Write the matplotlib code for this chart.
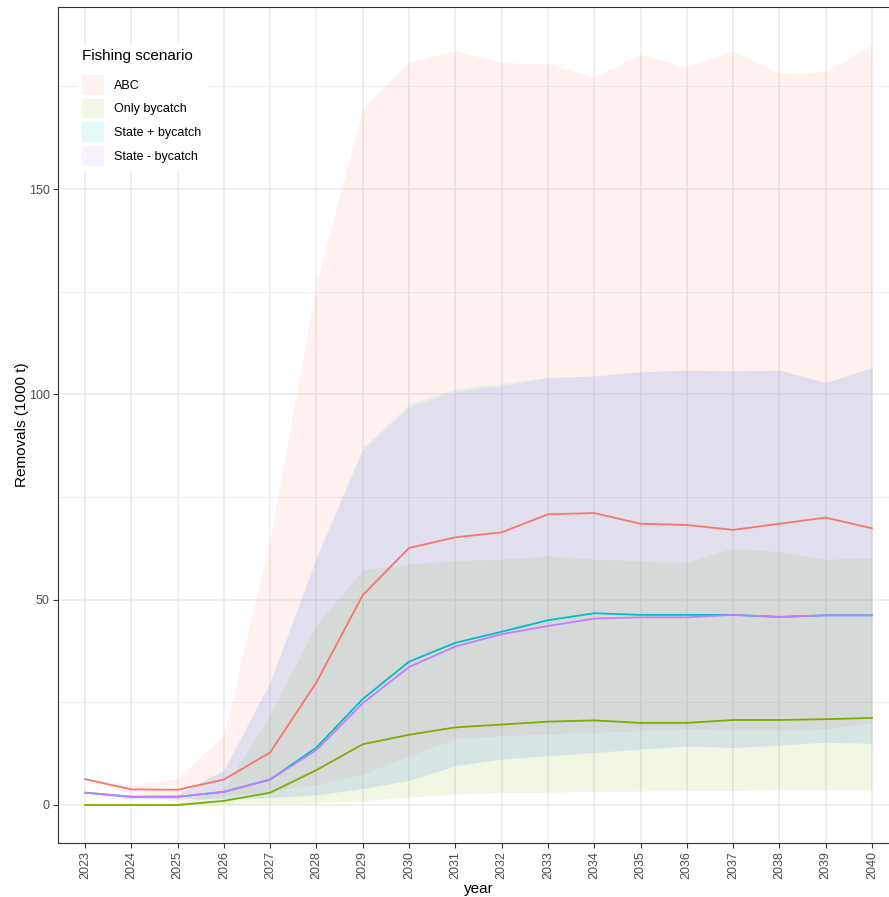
import numpy as np
import matplotlib
matplotlib.use("Agg")
import matplotlib.pyplot as plt
from matplotlib.patches import Patch
from matplotlib.ticker import MultipleLocator

plt.rcParams["font.family"] = ["Liberation Sans", "DejaVu Sans"]

# Data (1000 t)
years = list(range(2023, 2041))
scenarios = ["ABC", "Only bycatch", "State + bycatch", "State - bycatch"]
colors = ["#F8766D", "#7CAE00", "#00BFC4", "#C77CFF"]

abc_med = [6.3, 3.8, 3.7, 6.2, 12.8, 29.9, 51.1, 62.6, 65.2, 66.4, 70.8, 71.1,
           68.5, 68.2, 67.0, 68.5, 70.0, 67.4]
abc_lo = [6.3, 2.8, 0.8, 2.0, 3.5, 5.0, 7.5, 12.0, 16.1, 16.9, 17.3, 17.7,
          18.1, 18.5, 18.3, 18.1, 18.5, 20.1]
abc_hi = [6.3, 4.9, 6.5, 17.0, 65.0, 127.0, 169.8, 181.0, 183.7, 180.8, 180.5,
          177.3, 182.9, 179.6, 183.7, 178.2, 178.6, 185.1]

byc_med = [0.0, 0.0, 0.0, 1.0, 3.0, 8.5, 14.8, 17.1, 18.9, 19.6, 20.3, 20.6,
           20.0, 20.0, 20.7, 20.7, 20.9, 21.2]
byc_lo = [0.0, 0.0, 0.0, 0.1, 0.3, 0.5, 1.0, 1.9, 2.7, 3.1, 3.1, 3.3,
          3.4, 3.5, 3.5, 3.7, 3.7, 3.7]
byc_hi = [0.0, 0.0, 0.3, 4.0, 22.0, 44.0, 57.3, 58.7, 59.5, 59.9, 60.7, 59.9,
          59.5, 59.0, 62.6, 61.7, 59.8, 60.3]

spb_med = [3.0, 2.0, 2.0, 3.2, 6.2, 14.0, 25.8, 34.9, 39.5, 42.2, 45.0, 46.7,
           46.3, 46.3, 46.3, 45.8, 46.2, 46.2]
spb_lo = [3.0, 1.5, 1.5, 1.5, 1.8, 2.5, 4.0, 6.0, 9.6, 11.2, 12.0, 12.8,
          13.6, 14.4, 14.0, 14.6, 15.3, 15.0]
spb_hi = [3.0, 2.5, 2.6, 8.5, 30.0, 60.5, 87.0, 97.6, 101.3, 102.6, 104.1,
          104.5, 105.5, 105.9, 105.7, 105.9, 102.9, 106.5]

smb_med = [3.0, 2.0, 2.0, 3.2, 6.2, 13.4, 24.8, 33.6, 38.6, 41.6, 43.6, 45.4,
           45.7, 45.7, 46.3, 45.8, 46.2, 46.2]
smb_lo = [3.0, 1.5, 1.5, 1.5, 1.8, 2.5, 4.0, 6.0, 9.6, 11.2, 12.0, 12.8,
          13.6, 14.4, 14.0, 14.6, 15.3, 15.0]
smb_hi = [3.0, 2.5, 2.6, 8.5, 30.0, 60.0, 86.4, 96.8, 100.6, 102.1, 104.1,
          104.5, 105.5, 105.9, 105.7, 105.9, 102.9, 106.5]

medians = [abc_med, byc_med, spb_med, smb_med]
lowers = [abc_lo, byc_lo, spb_lo, smb_lo]
uppers = [abc_hi, byc_hi, spb_hi, smb_hi]

W, H = 889, 897
fig = plt.figure(figsize=(W / 100, H / 100), dpi=100)
# panel runs off the right edge of the image, as in the reference
ax = fig.add_axes([58 / W, 54 / H, 841 / W, 836 / H])

for lo, hi, c in zip(lowers, uppers, colors):
    ax.fill_between(years, lo, hi, color=c, alpha=0.1, linewidth=0, zorder=2)
for med, c in zip(medians, colors):
    ax.plot(years, med, color=c, lw=1.3, zorder=3)

ax.set_xlim(2022.416, 2040.584)
ax.set_ylim(-9.26, 194.36)
ax.set_xticks(years)
ax.set_xticklabels([str(y) for y in years], rotation=90)
ax.yaxis.set_major_locator(MultipleLocator(50))
ax.yaxis.set_minor_locator(MultipleLocator(25))

ax.set_axisbelow(True)
ax.grid(True, which="major", color="#EBEBEB", lw=1.1, zorder=0)
ax.grid(True, which="minor", axis="y", color="#EBEBEB", lw=0.55, zorder=0)
ax.tick_params(axis="both", which="major", length=3.5, width=0.8, color="#333333",
               labelcolor="#4D4D4D", labelsize=9, pad=2.5)
ax.tick_params(axis="y", which="minor", length=0)
for side in ax.spines.values():
    side.set_color("#333333")
    side.set_linewidth(0.8)

ax.set_xlabel("year", fontsize=11, labelpad=2)
ax.set_ylabel("Removals (1000 t)", fontsize=11, labelpad=0)

handles = [Patch(facecolor=c, alpha=0.1, edgecolor="none") for c in colors]
leg = ax.legend(handles, scenarios, title="Fishing scenario", loc="upper left",
                bbox_to_anchor=(0.022, 0.957), frameon=True, fancybox=False,
                fontsize=9, title_fontsize=11, handlelength=1.75,
                handleheight=2.05, handletextpad=0.8, labelspacing=0.31,
                borderpad=0.45, borderaxespad=0)
leg.get_frame().set_facecolor("white")
leg.get_frame().set_edgecolor("none")
leg.get_frame().set_alpha(1)
leg._legend_box.align = "left"
leg._legend_box.sep = 9  # gap between title and keys

fig.savefig("out.png", dpi=100)
